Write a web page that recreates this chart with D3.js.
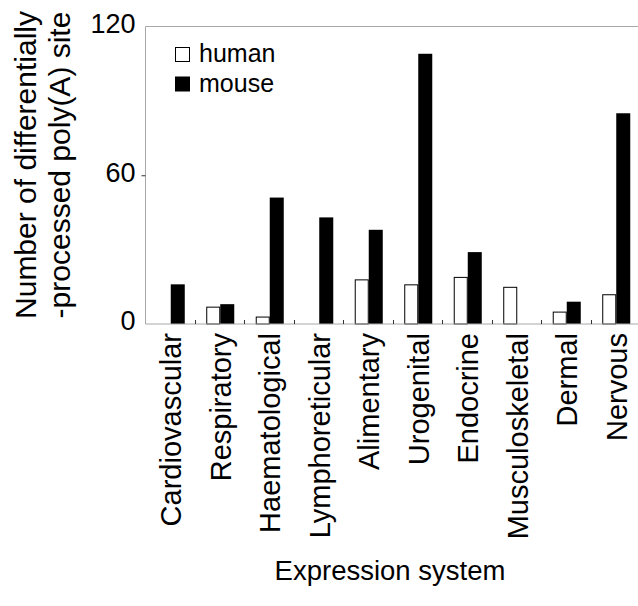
<!DOCTYPE html>
<html>
<head>
<meta charset="utf-8">
<script src="https://cdn.jsdelivr.net/npm/d3@7"></script>
<style>
  html, body { margin: 0; padding: 0; background: #fff; }
  svg { display: block; }
  text { font-family: Arial, "Liberation Sans", sans-serif; fill: #000; }
</style>
</head>
<body>
<svg id="chart" width="638" height="606"></svg>
<script>
const categories = ["Cardiovascular", "Respiratory", "Haematological", "Lymphoreticular",
  "Alimentary", "Urogenital", "Endocrine", "Musculoskeletal", "Dermal", "Nervous"];
const seriesNames = ["human", "mouse"];
const humanValues = [0, 7, 3, 0, 18, 16, 19, 15, 5, 12];
const mouseValues = [16, 8, 51, 43, 38, 109, 29, 0, 9, 85];
const yTicks = [0, 60, 120];
const yTitleLines = ["Number of differentially", "-processed poly(A) site"];
const xTitle = "Expression system";

(function () {
const svg = d3.select("#chart");
const mLeft = 146, mRight = 641, mTop = 26.5, mBottom = 324;

const x = d3.scaleBand().domain(categories).range([mLeft, mRight]).padding(0);
const x1 = d3.scaleBand().domain(seriesNames)
  .range([x.bandwidth() * 0.217, x.bandwidth() * 0.783]).padding(0);
const y = d3.scaleLinear().domain([0, 120]).range([mBottom, mTop]);

const fills = { human: "#fff", mouse: "#000" };
const data = categories.map((c, i) => ({ c, human: humanValues[i], mouse: mouseValues[i] }));

// bars
const g = svg.append("g");
data.forEach(d => {
  seriesNames.forEach(s => {
    if (d[s] <= 0) return;
    const isH = s === "human";
    g.append("rect")
      .attr("x", x(d.c) + x1(s) + (isH ? 0.5 : 0))
      .attr("y", y(d[s]) + (isH ? 0.5 : 0))
      .attr("width", x1.bandwidth() - (isH ? 1 : 0))
      .attr("height", mBottom - y(d[s]) - (isH ? 0.5 : 0))
      .attr("fill", fills[s])
      .attr("stroke", isH ? "#000" : "none")
      .attr("stroke-width", 1);
  });
});

// top frame line
svg.append("line").attr("x1", mLeft - 0.5).attr("x2", 640).attr("y1", mTop).attr("y2", mTop)
  .attr("stroke", "#a8a8a8").attr("stroke-width", 1);

// y axis
const yAxis = d3.axisLeft(y).tickValues(yTicks).tickSize(4).tickPadding(7);
const ya = svg.append("g").attr("transform", `translate(${mLeft - 0.5},0)`).call(yAxis);
ya.select(".domain").attr("stroke", "#a8a8a8").attr("d", `M0,${mTop}V${mBottom}`);
ya.selectAll(".tick line").attr("stroke", "#333").attr("stroke-width", 1)
  .attr("display", d => (d === 60 ? null : "none"));
ya.selectAll(".tick text")
  .style("font-size", "27px")
  .attr("dy", "0.22em")
  .attr("x", -10);

// x axis
const xAxis = d3.axisBottom(x).tickSize(0).tickPadding(8);
const xa = svg.append("g").attr("transform", `translate(0,${mBottom})`).call(xAxis);
xa.select(".domain").attr("stroke", "#a8a8a8").attr("d", `M${mLeft - 0.5},0H640`);
xa.selectAll(".tick text")
  .style("font-size", "29px")
  .attr("text-anchor", "end")
  .attr("transform", "rotate(-90)")
  .attr("x", -9)
  .attr("y", 0)
  .attr("dy", "0.36em");

// category boundary ticks (pointing up)
svg.append("g").selectAll("line")
  .data(categories.slice(1))
  .join("line")
  .attr("x1", d => Math.round(x(d)) - 0.5)
  .attr("x2", d => Math.round(x(d)) - 0.5)
  .attr("y1", mBottom - 4)
  .attr("y2", mBottom)
  .attr("stroke", "#333");

// y title
const yt = svg.append("text")
  .attr("transform", `translate(36,165) rotate(-90)`)
  .attr("text-anchor", "middle")
  .style("font-size", "30px");
yTitleLines.forEach((t, i) => {
  yt.append("tspan").attr("x", 0).attr("y", i * 34).text(t);
});

// x title
svg.append("text")
  .attr("x", 390)
  .attr("y", 580)
  .attr("text-anchor", "middle")
  .style("font-size", "27.5px")
  .text(xTitle);

// legend
const legend = svg.append("g");
seriesNames.forEach((s, i) => {
  const ly = 47 + i * 29.5;
  legend.append("rect")
    .attr("x", 175.5).attr("y", ly + 0.5)
    .attr("width", 14).attr("height", 14)
    .attr("fill", fills[s]).attr("stroke", "#000").attr("stroke-width", 1);
  legend.append("text")
    .attr("x", 199).attr("y", ly + 15)
    .style("font-size", "25px")
    .text(s);
});
})();
</script>
</body>
</html>
